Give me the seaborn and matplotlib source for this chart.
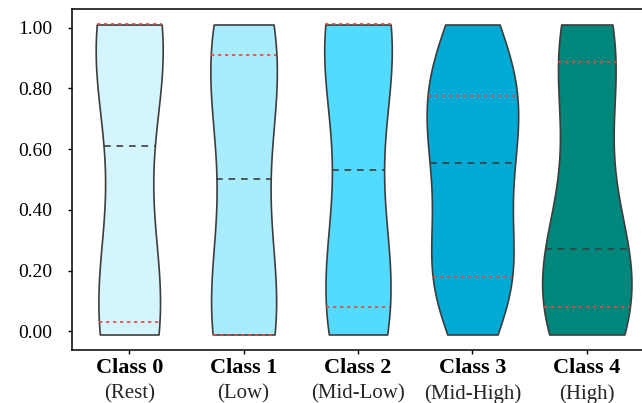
import matplotlib
matplotlib.use("Agg")
import matplotlib.pyplot as plt
import matplotlib.transforms as mtransforms
import numpy as np
import pandas as pd
import seaborn as sns

# Per-class score samples
class_0 = [-0.01, -0.01, -0.01, 0.0, 0.0, 0.01, 0.02, 0.02, 0.03, 0.03,
           0.06, 0.10, 0.15, 0.21, 0.28, 0.38, 0.60, 0.62, 0.76, 0.83,
           0.88, 0.92, 0.95, 0.98, 1.01, 1.01, 1.01, 1.01, 1.01, 1.01,
           1.01, 1.01, 1.01, 1.01]
class_1 = [-0.01, -0.01, -0.01, -0.01, -0.01, -0.01, -0.01, -0.01, -0.01, 0.03,
           0.08, 0.14, 0.20, 0.27, 0.36, 0.48, 0.52, 0.63, 0.72, 0.79,
           0.84, 0.87, 0.89, 0.91, 0.91, 0.94, 0.96, 0.98, 1.00, 1.01,
           1.01, 1.01]
class_2 = [-0.01, -0.01, 0.0, 0.02, 0.03, 0.05, 0.06, 0.07, 0.08, 0.08,
           0.12, 0.16, 0.21, 0.26, 0.32, 0.40, 0.51, 0.55, 0.70, 0.80,
           0.86, 0.91, 0.95, 0.98, 1.01, 1.01, 1.01, 1.01, 1.01, 1.01,
           1.01, 1.01, 1.01, 1.01]
class_3 = [-0.01, 0.06, 0.10, 0.13, 0.15, 0.16, 0.17, 0.175, 0.178, 0.18,
           0.18, 0.21, 0.26, 0.32, 0.38, 0.43, 0.48, 0.52, 0.55, 0.56,
           0.59, 0.62, 0.65, 0.68, 0.71, 0.73, 0.755, 0.775, 0.775, 0.79,
           0.82, 0.85, 0.88, 0.91, 0.94, 0.97, 0.99, 1.01]
class_4 = [-0.01, -0.01, 0.0, 0.01, 0.02, 0.03, 0.04, 0.05, 0.07, 0.08,
           0.08, 0.10, 0.13, 0.16, 0.18, 0.20, 0.22, 0.24, 0.26, 0.26,
           0.28, 0.32, 0.37, 0.43, 0.50, 0.58, 0.66, 0.74, 0.82, 0.885,
           0.885, 0.90, 0.92, 0.94, 0.96, 0.98, 0.99, 1.0, 1.01, 1.01]

class_names = ["Class 0", "Class 1", "Class 2", "Class 3", "Class 4"]
class_desc = ["(Rest)", "(Low)", "(Mid-Low)", "(Mid-High)", "(High)"]
class_colors = ["#d5f5fe", "#a9ecfe", "#52dbff", "#00aad4", "#00877c"]
y_ticks = [0.0, 0.2, 0.4, 0.6, 0.8, 1.0]

samples = [class_0, class_1, class_2, class_3, class_4]
df = pd.DataFrame({
    "cls": np.repeat(class_names, [len(s) for s in samples]),
    "score": np.concatenate(samples),
})

sns.set_style("ticks")
plt.rcParams["font.family"] = ["Liberation Serif", "DejaVu Serif"]

fig = plt.figure(figsize=(6.42, 4.03), dpi=100)
ax = fig.add_axes([72 / 642, 53 / 403, 572 / 642, 341 / 403])

sns.violinplot(
    data=df, x="cls", y="score", hue="cls", order=class_names,
    hue_order=class_names, palette=class_colors, legend=False,
    inner="quart", cut=0, width=0.8, saturation=1, bw_adjust=1.3,
    density_norm="area", common_norm=True,
    linewidth=1.2, linecolor="#3d3d3d", ax=ax,
)

# Median: dark dashed; quartiles: red dotted
for i, line in enumerate(ax.lines):
    if i % 3 == 1:
        line.set_color("#3d3d3d")
        line.set_dashes((4, 3.5))
        line.set_linewidth(1.2)
    else:
        line.set_color("#e8453c")
        line.set_dashes((2, 2.2))
        line.set_linewidth(1.2)

ax.set_xlim(-0.5, 4.5)
ax.set_yticks(y_ticks)
ax.set_yticklabels([f"{v:.2f}" for v in y_ticks], fontsize=14)
ax.set_xticks(range(len(class_names)))
ax.set_xticklabels(class_names, fontsize=16, fontweight="bold")
ax.tick_params(axis="both", direction="out", length=3, width=1, colors="black")
ax.tick_params(axis="y", pad=11)
ax.tick_params(axis="x", pad=3)
ax.set_xlabel("")
ax.set_ylabel("")

trans = mtransforms.blended_transform_factory(ax.transData, ax.transAxes)
for i, desc in enumerate(class_desc):
    ax.text(i, -0.100, desc, transform=trans, ha="center", va="top",
            fontsize=15)

for side in ["left", "top", "bottom"]:
    ax.spines[side].set_visible(True)
    ax.spines[side].set_color("black")
    ax.spines[side].set_linewidth(1.1)
ax.spines["right"].set_visible(False)

fig.savefig("out.png", dpi=100)
